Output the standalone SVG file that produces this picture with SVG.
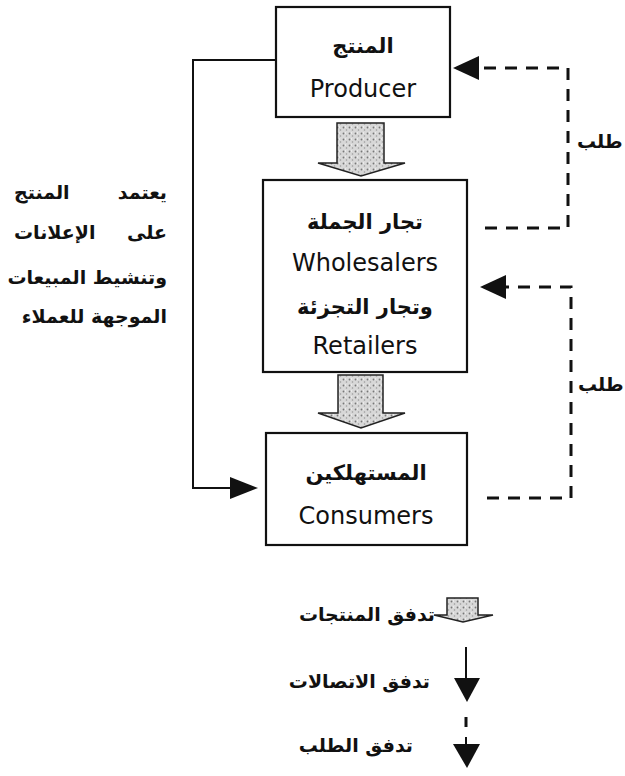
<svg xmlns="http://www.w3.org/2000/svg" width="625" height="776" viewBox="0 0 625 776">
<style>
.box{fill:#fff;stroke:#111;stroke-width:2.2}
.en{font-family:"DejaVu Sans",Verdana,sans-serif;font-size:24px;fill:#111;text-anchor:middle}
.ar{font-family:"DejaVu Sans",sans-serif;font-size:19px;font-weight:bold;fill:#111}
.big{font-size:21px}
.mid{text-anchor:middle}
.end{text-anchor:end}
.st{text-anchor:start}
.solid{fill:none;stroke:#111;stroke-width:2}
.dash{fill:none;stroke:#111;stroke-width:3;stroke-dasharray:12 9}
.head{fill:#111}
.flow{fill:url(#stip);stroke:#222;stroke-width:1.5}
</style>
<defs>
<pattern id="stip" width="6" height="6" patternUnits="userSpaceOnUse">
<rect width="6" height="6" fill="#d8d8d8"/>
<circle cx="1.5" cy="1.5" r="0.9" fill="#777"/>
<circle cx="4.5" cy="4" r="0.8" fill="#999"/>
<rect x="3" y="0.5" width="1" height="1" fill="#fff"/>
</pattern>
</defs>

<g id="connectors">
<path class="solid" d="M276,60 H193 V488 H232"/>
<polygon class="head" points="230,477 230,499 258,488"/>
<path class="dash" d="M485,228 H568 V68 H476"/>
<polygon class="head" points="453,68 479,56 479,80"/>
<path class="dash" d="M487,498 H571 V287 H503"/>
<polygon class="head" points="480,287 506,275 506,299"/>
<path class="flow" d="M337,123 H384 V163 H405 L361,176 L318,163 H337 Z"/>
<path class="flow" d="M338,375 H383 V413 H405 L361,428 L318,413 H338 Z"/>
<text class="ar st" x="577" y="148">طلب</text>
<text class="ar st" x="578" y="391">طلب</text>
</g>

<g id="producer">
<rect class="box" x="276" y="7" width="174" height="110"/>
<text class="ar big mid" x="363" y="53">المنتج</text>
<text class="en" x="363" y="97">Producer</text>
</g>

<g id="wholesalers">
<rect class="box" x="263" y="180" width="204" height="192"/>
<text class="ar big mid" x="365" y="229">تجار الجملة</text>
<text class="en" x="365" y="271">Wholesalers</text>
<text class="ar big mid" x="365" y="314">وتجار التجزئة</text>
<text class="en" x="365" y="354">Retailers</text>
</g>

<g id="consumers">
<rect class="box" x="266" y="433" width="201" height="112"/>
<text class="ar big mid" x="366" y="480">المستهلكين</text>
<text class="en" x="366" y="524">Consumers</text>
</g>

<g id="note">
<text class="ar end" x="167" y="199">يعتمد</text>
<text class="ar st" x="14" y="199">المنتج</text>
<text class="ar end" x="167" y="239">على</text>
<text class="ar st" x="14" y="239">الإعلانات</text>
<text class="ar end" x="167" y="284">وتنشيط المبيعات</text>
<text class="ar end" x="167" y="323">الموجهة للعملاء</text>
</g>

<g id="legend">
<path class="flow" d="M447,598 H478 V615 H493 L463,622 L434,615 H447 Z"/>
<text class="ar end" x="435" y="621" font-size="20">تدفق المنتجات</text>
<line class="solid" x1="466" y1="647" x2="466" y2="680"/>
<polygon class="head" points="454,678 480,678 467,702"/>
<text class="ar end" x="430" y="688">تدفق الاتصالات</text>
<line x1="466" y1="717" x2="466" y2="727" stroke="#111" stroke-width="3"/>
<line x1="466" y1="737" x2="466" y2="746" stroke="#111" stroke-width="2"/>
<polygon class="head" points="453,744 480,744 467,768"/>
<text class="ar end" x="413" y="752">تدفق الطلب</text>
</g>
</svg>
